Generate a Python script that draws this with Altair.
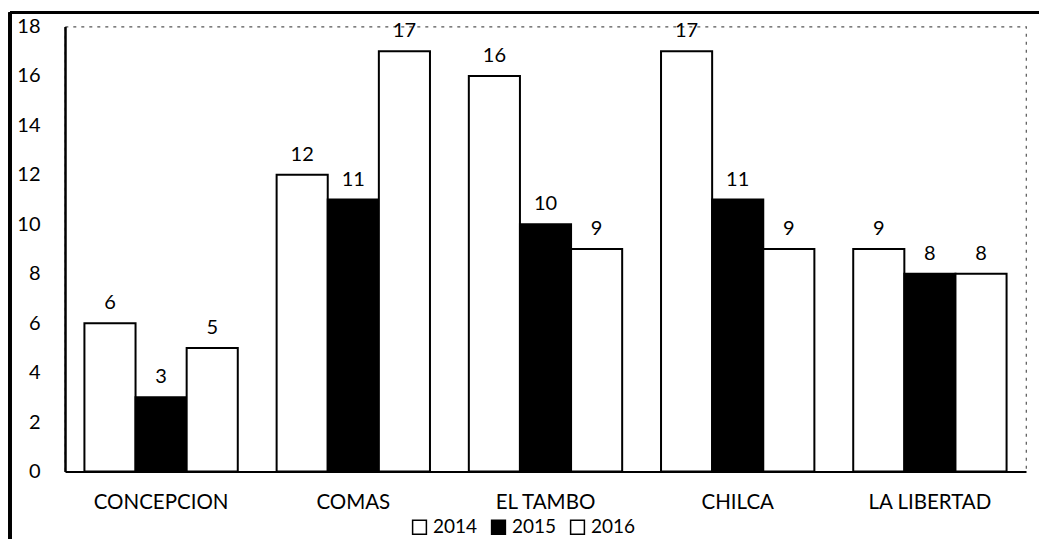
import altair as alt
import pandas as pd

categories = ["CONCEPCION", "COMAS", "EL TAMBO", "CHILCA", "LA LIBERTAD"]
years = ["2014", "2015", "2016"]
v2014 = [6, 12, 16, 17, 9]
v2015 = [3, 11, 10, 11, 8]
v2016 = [5, 17, 9, 9, 8]
y_ticks = [0, 2, 4, 6, 8, 10, 12, 14, 16, 18]

rows = []
for i, c in enumerate(categories):
    for y, vals in zip(years, [v2014, v2015, v2016]):
        rows.append({"lugar": c, "anio": y, "valor": vals[i]})
df = pd.DataFrame(rows)

FONT = "Lato"

color = alt.Color(
    "anio:N",
    scale=alt.Scale(domain=years, range=["white", "black", "white"]),
    legend=alt.Legend(
        title=None, orient="none", direction="horizontal",
        legendX=345, legendY=491, symbolType="square", symbolSize=190,
        symbolStrokeColor="black", symbolStrokeWidth=1.5,
        labelFontSize=19, labelFont=FONT, labelColor="black",
        columnPadding=10, labelOffset=4,
    ),
)

base = alt.Chart(df).encode(
    x=alt.X("lugar:N", sort=categories,
            scale=alt.Scale(paddingInner=0, paddingOuter=0),
            axis=alt.Axis(title=None, labelAngle=0, ticks=False, domainColor="black",
                          domainWidth=2, labelFontSize=20.5, labelFont=FONT,
                          labelColor="black", labelPadding=21)),
    xOffset=alt.XOffset("anio:N", sort=years,
                        scale=alt.Scale(paddingInner=0, paddingOuter=0.38)),
    y=alt.Y("valor:Q", scale=alt.Scale(domain=[0, 18], nice=False),
            axis=alt.Axis(title=None, values=y_ticks, grid=False, ticks=False,
                          domainColor="black", domainWidth=2.5, labelFontSize=20,
                          labelFont=FONT, labelColor="black", labelPadding=25)),
)

bars = base.mark_bar(stroke="black", strokeWidth=2).encode(color=color)
labels = base.mark_text(baseline="bottom", dy=-10, fontSize=20, font=FONT,
                        color="black").encode(text="valor:Q")

frame_top = alt.Chart(df).mark_rule(color="black", strokeWidth=3).encode(
    x=alt.value(-55), x2=alt.value(985), y=alt.value(-14))
frame_left = alt.Chart(df).mark_rule(color="black", strokeWidth=2.5).encode(
    x=alt.value(-55), y=alt.value(-14), y2=alt.value(520))

chart = (bars + labels + frame_top + frame_left).properties(
    width=961, height=445,
    autosize=alt.AutoSizeParams(type="none"),
    padding={"left": 57, "top": 18.5, "right": 13, "bottom": 67},
).configure_view(
    stroke="#555", strokeDash=[3, 5], strokeWidth=1.2
)

chart.save("out.html", embed_options={"renderer": "svg", "actions": False})
